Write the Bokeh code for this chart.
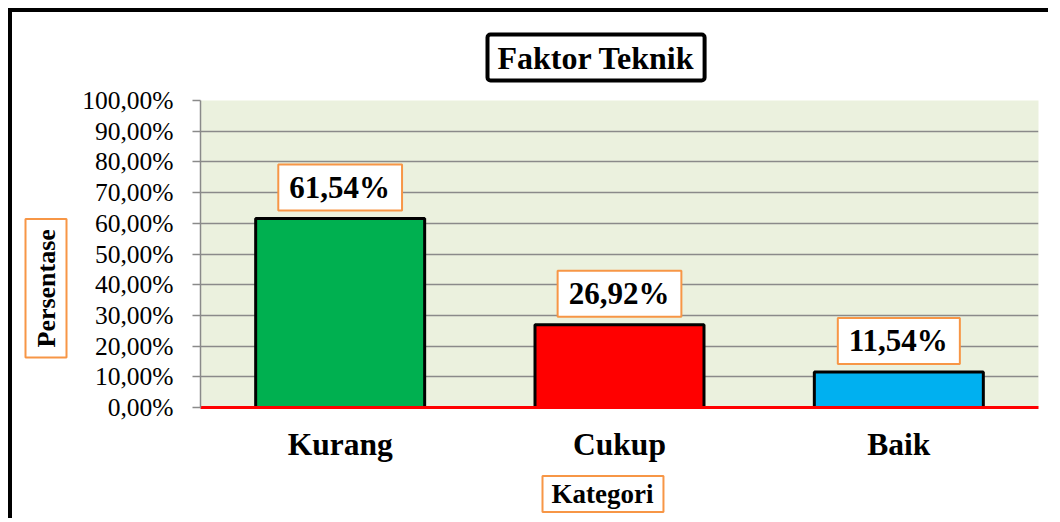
from bokeh.plotting import figure
from bokeh.models import Range1d, FixedTicker, Label, Title
from bokeh.embed import file_html
from bokeh.resources import INLINE

categories = ["Kurang", "Cukup", "Baik"]
values = [61.54, 26.92, 11.54]
value_labels = ["61,54%", "26,92%", "11,54%"]
bar_colors = ["#00B050", "#FF0000", "#00B0F0"]
y_ticks = [0, 10, 20, 30, 40, 50, 60, 70, 80, 90, 100]
y_tick_labels = ["0,00%", "10,00%", "20,00%", "30,00%", "40,00%", "50,00%",
                 "60,00%", "70,00%", "80,00%", "90,00%", "100,00%"]
title_text = "Faktor Teknik"
x_title = "Kategori"
y_title = "Persentase"

FONT = "Liberation Serif"
ORANGE = "#F79646"
GRID = "#8A8A8A"

x_pos = [i + 0.5 for i in range(len(categories))]

p = figure(width=1040, height=510, x_range=Range1d(0, 3), y_range=Range1d(0, 100),
           output_backend="svg", toolbar_location=None,
           min_border_left=188, min_border_right=14, min_border_top=88, min_border_bottom=115,
           background_fill_color="#EBF1DE", border_fill_color="white",
           outline_line_color=None)
p.styles = {"margin-left": "8px", "margin-top": "8px",
            "border-left": "4px solid black", "border-top": "4px solid black"}

p.vbar(x=x_pos, top=values, width=0.605, fill_color=bar_colors,
       line_color="black", line_width=3)

# axes
p.yaxis.ticker = FixedTicker(ticks=y_ticks)
p.yaxis.major_label_overrides = {t: l for t, l in zip(y_ticks, y_tick_labels)}
p.yaxis.major_label_text_font = FONT
p.yaxis.major_label_text_font_size = "25.5px"
p.yaxis.major_label_text_color = "black"
p.yaxis.axis_line_color = GRID
p.yaxis.axis_line_width = 1.5
p.yaxis.major_tick_line_color = GRID
p.yaxis.major_tick_line_width = 1.5
p.yaxis.major_tick_out = 8
p.yaxis.major_tick_in = 0
p.yaxis.minor_tick_line_color = None
p.yaxis.major_label_standoff = 19

p.xaxis.ticker = FixedTicker(ticks=x_pos)
p.xaxis.major_label_overrides = {x: c for x, c in zip(x_pos, categories)}
p.xaxis.major_label_text_font = FONT
p.xaxis.major_label_text_font_size = "31.5px"
p.xaxis.major_label_text_font_style = "bold"
p.xaxis.major_label_text_color = "black"
p.xaxis.axis_line_color = "#FF0000"
p.xaxis.axis_line_width = 3
p.xaxis.major_tick_line_color = None
p.xaxis.minor_tick_line_color = None
p.xaxis.major_label_standoff = 13

p.xgrid.grid_line_color = None
p.ygrid.grid_line_color = GRID
p.ygrid.grid_line_width = 1.5

# data labels (padding order: left, right, top, bottom)
for xp, v, lab in zip(x_pos, values, value_labels):
    p.add_layout(Label(x=xp, y=v, y_offset=31, text=lab, text_align="center",
                       text_baseline="middle", text_font=FONT, text_font_size="31px",
                       text_font_style="bold", text_color="black",
                       background_fill_color="white", border_line_color=ORANGE,
                       border_line_width=2, padding=(11, 12, 5, 6)))

# chart title (boxed)
p.add_layout(Title(text=title_text, align="left", offset=287, standoff=40,
                   text_font=FONT, text_font_size="32px", text_font_style="bold",
                   text_color="black", background_fill_color="white",
                   border_line_color="black", border_line_width=4, border_radius=3,
                   padding=(10, 10, 5, 5)), "above")

# axis titles (boxed)
p.add_layout(Title(text=x_title, align="left", offset=342, standoff=19,
                   text_font=FONT, text_font_size="27px", text_font_style="bold",
                   text_color="black", background_fill_color="white",
                   border_line_color=ORANGE, border_line_width=2,
                   padding=(9, 10, 3, 3)), "below")
p.add_layout(Title(text=y_title, align="left", offset=50, standoff=16,
                   vertical_align="middle",
                   text_font=FONT, text_font_size="26px", text_font_style="bold",
                   text_color="black", background_fill_color="white",
                   border_line_color=ORANGE, border_line_width=2,
                   padding=(10, 10, 6, 6)), "left")

open("out.html", "w").write(file_html(p, INLINE))
